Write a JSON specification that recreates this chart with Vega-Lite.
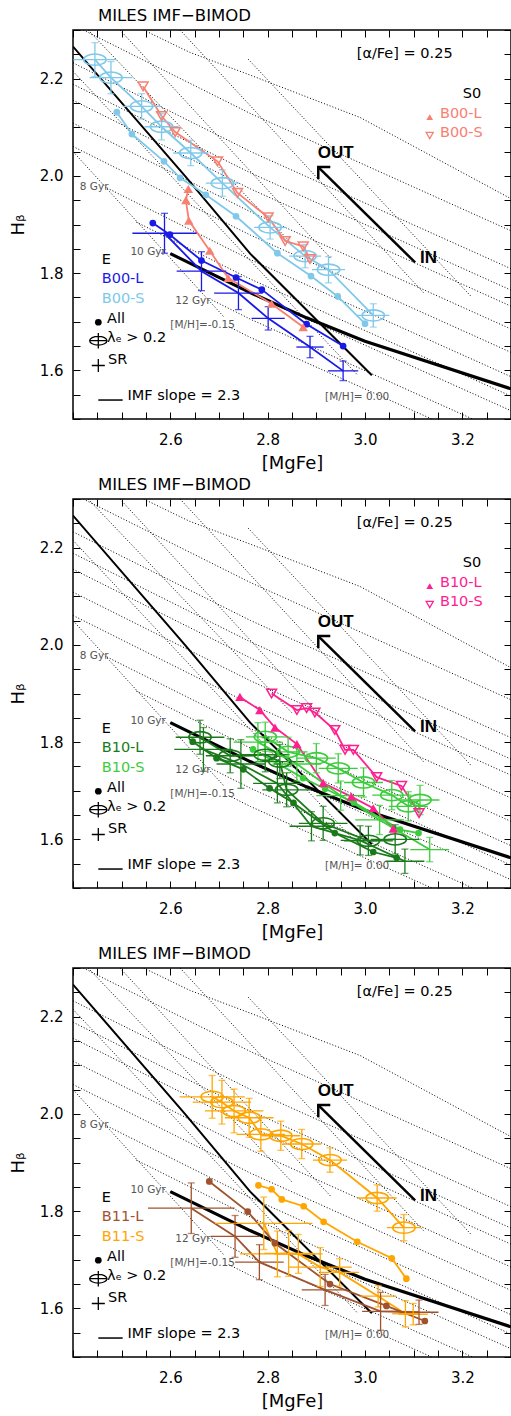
{
"$schema":"https://vega.github.io/schema/vega-lite/v6.json",
"padding":{"left":8,"top":6,"right":0,"bottom":0},
"spacing":80,
"bounds":"flush",
"config":{"view":{"stroke":"black","strokeWidth":1.5},
"axis":{"labelFont":"DejaVu Sans","labelFontSize":15,"labelColor":"black","titleFont":"DejaVu Sans","titleFontSize":18,"titleFontWeight":"normal","titleColor":"black","tickColor":"black","tickWidth":1,"grid":false,"domain":false},
"text":{"font":"DejaVu Sans"}},
"datasets":{
"grid":[
{"g":"s1","o":1,"x":2.545,"y":2.30},{"g":"s1","o":2,"x":2.64,"y":2.254},{"g":"s1","o":3,"x":2.77,"y":2.205},{"g":"s1","o":4,"x":2.99,"y":2.12},{"g":"s1","o":5,"x":3.3,"y":1.953},
{"g":"s2","o":1,"x":2.421,"y":2.30},{"g":"s2","o":2,"x":2.765,"y":2.128},{"g":"s2","o":3,"x":3.3,"y":1.887},
{"g":"s3","o":1,"x":2.4,"y":2.2325},{"g":"s3","o":2,"x":2.765,"y":2.050},{"g":"s3","o":3,"x":3.3,"y":1.809},
{"g":"s4","o":1,"x":2.4,"y":2.1885},{"g":"s4","o":2,"x":2.765,"y":2.006},{"g":"s4","o":3,"x":3.3,"y":1.765},
{"g":"s5","o":1,"x":2.4,"y":2.1555},{"g":"s5","o":2,"x":2.765,"y":1.973},{"g":"s5","o":3,"x":3.3,"y":1.732},
{"g":"s6","o":1,"x":2.4,"y":2.1085},{"g":"s6","o":2,"x":2.765,"y":1.926},{"g":"s6","o":3,"x":3.3,"y":1.685},
{"g":"s7","o":1,"x":2.4,"y":2.0605},{"g":"s7","o":2,"x":2.765,"y":1.878},{"g":"s7","o":3,"x":3.3,"y":1.637},
{"g":"s8","o":1,"x":2.47,"y":1.975},{"g":"s8","o":2,"x":2.765,"y":1.8275},{"g":"s8","o":3,"x":3.3,"y":1.587},
{"g":"s9","o":1,"x":2.53,"y":1.905},{"g":"s9","o":2,"x":2.765,"y":1.7875},{"g":"s9","o":3,"x":3.3,"y":1.547},
{"g":"s10","o":1,"x":2.6,"y":1.84},{"g":"s10","o":2,"x":2.765,"y":1.7575},{"g":"s10","o":3,"x":3.3,"y":1.517},
{"g":"s11","o":1,"x":2.685,"y":1.745},{"g":"s11","o":2,"x":2.765,"y":1.705},{"g":"s11","o":3,"x":3.221,"y":1.50},
{"g":"s12","o":1,"x":2.72,"y":1.69},{"g":"s12","o":2,"x":2.765,"y":1.6675},{"g":"s12","o":3,"x":3.137,"y":1.50},
{"g":"t1","o":1,"x":2.431,"y":2.30},{"g":"t1","o":2,"x":2.85,"y":1.86},
{"g":"t2","o":1,"x":2.4965,"y":2.30},{"g":"t2","o":2,"x":2.93,"y":1.83},
{"g":"t3","o":1,"x":2.40,"y":2.05},{"g":"t3","o":2,"x":2.71,"y":1.71},
{"g":"t4","o":1,"x":2.40,"y":2.215},{"g":"t4","o":2,"x":2.985,"y":1.59},
{"g":"t5","o":1,"x":2.62,"y":2.30},{"g":"t5","o":2,"x":3.12,"y":1.76},
{"g":"t6","o":1,"x":2.76,"y":2.24},{"g":"t6","o":2,"x":3.22,"y":1.75}
],
"solid":[
{"g":"m0","o":1,"x":2.4,"y":2.266},{"g":"m0","o":2,"x":2.63,"y":2.0},{"g":"m0","o":3,"x":2.764,"y":1.84},{"g":"m0","o":4,"x":3.014,"y":1.59},
{"g":"age","o":1,"x":2.6,"y":1.84},{"g":"age","o":2,"x":2.764,"y":1.76},{"g":"age","o":3,"x":2.88,"y":1.708},{"g":"age","o":4,"x":3.0,"y":1.66},{"g":"age","o":5,"x":3.3,"y":1.562}
],
"arrow":[{"o":1,"x":3.103,"y":1.822},{"o":2,"x":2.904,"y":2.018}],
"leg":[
{"k":"dot","x":2.452,"y":1.699},{"k":"ell","x":2.452,"y":1.661},{"k":"sr","x":2.452,"y":1.610},
{"k":"imf","o":1,"x":2.452,"y":1.539},{"k":"imf","o":2,"x":2.502,"y":1.539}
],
"sleg":[
{"p":1,"k":"tri","c":"1S0","x":3.133,"y":2.121},{"p":1,"k":"itri","c":"1S0","x":3.133,"y":2.083},
{"p":2,"k":"tri","c":"2S0","x":3.133,"y":2.121},{"p":2,"k":"itri","c":"2S0","x":3.133,"y":2.083}
],
"ctxt":[
{"r":"lab","x":2.983,"y":2.251,"t":"[α/Fe] = 0.25"},
{"r":"lab","x":2.459,"y":1.828,"t":"E"},
{"r":"lab","x":2.470,"y":1.705,"t":"All"},
{"r":"lab","x":2.470,"y":1.666,"t":"λₑ > 0.2"},
{"r":"lab","x":2.472,"y":1.622,"t":"SR"},
{"r":"lab","x":2.512,"y":1.548,"t":"IMF slope = 2.3"},
{"r":"dir","x":2.903,"y":2.047,"t":"OUT"},
{"r":"dir","x":3.113,"y":1.831,"t":"IN"},
{"r":"mod","x":2.414,"y":1.977,"t":"8 Gyr"},
{"r":"mod","x":2.518,"y":1.843,"t":"10 Gyr"},
{"r":"mod","x":2.610,"y":1.743,"t":"12 Gyr"},
{"r":"mod","x":2.600,"y":1.693,"t":"[M/H]=-0.15"},
{"r":"mod","x":2.918,"y":1.546,"t":"[M/H]= 0.00"}
],
"ptxt":[
{"p":1,"c":"k","x":3.201,"y":2.169,"t":"S0"},
{"p":1,"c":"1S0","x":3.154,"y":2.128,"t":"B00-L"},
{"p":1,"c":"1S0","x":3.154,"y":2.089,"t":"B00-S"},
{"p":1,"c":"1L","x":2.459,"y":1.787,"t":"B00-L"},
{"p":1,"c":"1S","x":2.459,"y":1.747,"t":"B00-S"},
{"p":2,"c":"k","x":3.201,"y":2.169,"t":"S0"},
{"p":2,"c":"2S0","x":3.154,"y":2.128,"t":"B10-L"},
{"p":2,"c":"2S0","x":3.154,"y":2.089,"t":"B10-S"},
{"p":2,"c":"2L","x":2.459,"y":1.787,"t":"B10-L"},
{"p":2,"c":"2S","x":2.459,"y":1.747,"t":"B10-S"},
{"p":3,"c":"3L","x":2.459,"y":1.787,"t":"B11-L"},
{"p":3,"c":"3S","x":2.459,"y":1.747,"t":"B11-S"}
],
"pts":[
{"p":1,"c":"1S","k":"ell","o":1,"x":2.445,"y":2.239,"xe":0.044,"ye":0.035},
{"p":1,"c":"1S","k":"ell","o":2,"x":2.478,"y":2.202,"xe":0.044,"ye":0.033},
{"p":1,"c":"1S","k":"ell","o":3,"x":2.541,"y":2.143,"xe":0.039,"ye":0.026},
{"p":1,"c":"1S","k":"ell","o":4,"x":2.582,"y":2.101,"xe":0.035,"ye":0.027},
{"p":1,"c":"1S","k":"ell","o":5,"x":2.642,"y":2.047,"xe":0.036,"ye":0.026},
{"p":1,"c":"1S","k":"ell","o":6,"x":2.707,"y":1.985,"xe":0.034,"ye":0.027},
{"p":1,"c":"1S","k":"ell","o":7,"x":2.805,"y":1.894,"xe":0.033,"ye":0.024},
{"p":1,"c":"1S","k":"ell","o":8,"x":2.877,"y":1.835,"xe":0.033,"ye":0.024},
{"p":1,"c":"1S","k":"ell","o":9,"x":2.925,"y":1.807,"xe":0.034,"ye":0.027},
{"p":1,"c":"1S","k":"ell","o":10,"x":3.017,"y":1.713,"xe":0.033,"ye":0.024},
{"p":1,"c":"1S","k":"dot","o":1,"x":2.490,"y":2.131},
{"p":1,"c":"1S","k":"dot","o":2,"x":2.521,"y":2.086},
{"p":1,"c":"1S","k":"dot","o":3,"x":2.587,"y":2.030},
{"p":1,"c":"1S","k":"dot","o":4,"x":2.620,"y":1.996},
{"p":1,"c":"1S","k":"dot","o":5,"x":2.673,"y":1.961},
{"p":1,"c":"1S","k":"dot","o":6,"x":2.735,"y":1.917},
{"p":1,"c":"1S","k":"dot","o":7,"x":2.820,"y":1.841},
{"p":1,"c":"1S","k":"dot","o":8,"x":2.889,"y":1.794},
{"p":1,"c":"1S","k":"dot","o":9,"x":2.944,"y":1.752},
{"p":1,"c":"1S","k":"dot","o":10,"x":3.000,"y":1.696},
{"p":1,"c":"1L","k":"dot","o":1,"x":2.564,"y":1.903},
{"p":1,"c":"1L","k":"dot","o":2,"x":2.599,"y":1.879},
{"p":1,"c":"1L","k":"dot","o":3,"x":2.664,"y":1.826},
{"p":1,"c":"1L","k":"dot","o":4,"x":2.735,"y":1.791},
{"p":1,"c":"1L","k":"dot","o":5,"x":2.788,"y":1.766},
{"p":1,"c":"1L","k":"dot","o":6,"x":2.880,"y":1.695},
{"p":1,"c":"1L","k":"dot","o":7,"x":2.955,"y":1.650},
{"p":1,"c":"1L","k":"sr","o":1,"x":2.588,"y":1.882,"xe":0.066,"ye":0.041},
{"p":1,"c":"1L","k":"sr","o":2,"x":2.664,"y":1.804,"xe":0.051,"ye":0.040},
{"p":1,"c":"1L","k":"sr","o":3,"x":2.740,"y":1.759,"xe":0.05,"ye":0.034},
{"p":1,"c":"1L","k":"sr","o":4,"x":2.801,"y":1.707,"xe":0.034,"ye":0.024},
{"p":1,"c":"1L","k":"sr","o":5,"x":2.887,"y":1.648,"xe":0.028,"ye":0.022},
{"p":1,"c":"1L","k":"sr","o":6,"x":2.955,"y":1.599,"xe":0.031,"ye":0.020},
{"p":1,"c":"1S0","k":"tri","o":1,"x":2.637,"y":1.973},
{"p":1,"c":"1S0","k":"tri","o":2,"x":2.632,"y":1.950},
{"p":1,"c":"1S0","k":"tri","o":3,"x":2.638,"y":1.908},
{"p":1,"c":"1S0","k":"tri","o":4,"x":2.681,"y":1.846},
{"p":1,"c":"1S0","k":"tri","o":5,"x":2.719,"y":1.790},
{"p":1,"c":"1S0","k":"tri","o":6,"x":2.808,"y":1.737},
{"p":1,"c":"1S0","k":"tri","o":7,"x":2.873,"y":1.689},
{"p":1,"c":"1S0","k":"itri","o":1,"x":2.544,"y":2.184},
{"p":1,"c":"1S0","k":"itri","o":2,"x":2.582,"y":2.123},
{"p":1,"c":"1S0","k":"itri","o":3,"x":2.610,"y":2.090},
{"p":1,"c":"1S0","k":"itri","o":4,"x":2.697,"y":2.030},
{"p":1,"c":"1S0","k":"itri","o":5,"x":2.738,"y":1.965},
{"p":1,"c":"1S0","k":"itri","o":6,"x":2.801,"y":1.915},
{"p":1,"c":"1S0","k":"itri","o":7,"x":2.836,"y":1.866},
{"p":1,"c":"1S0","k":"itri","o":8,"x":2.873,"y":1.855},
{"p":1,"c":"1S0","k":"itri","o":9,"x":2.887,"y":1.829},
{"p":2,"c":"2S0","k":"tri","o":1,"x":2.743,"y":1.893},
{"p":2,"c":"2S0","k":"tri","o":2,"x":2.784,"y":1.866},
{"p":2,"c":"2S0","k":"tri","o":3,"x":2.815,"y":1.830},
{"p":2,"c":"2S0","k":"tri","o":4,"x":2.860,"y":1.796},
{"p":2,"c":"2S0","k":"tri","o":5,"x":2.914,"y":1.716},
{"p":2,"c":"2S0","k":"tri","o":6,"x":2.972,"y":1.688},
{"p":2,"c":"2S0","k":"tri","o":7,"x":3.017,"y":1.664},
{"p":2,"c":"2S0","k":"tri","o":8,"x":3.058,"y":1.622},
{"p":2,"c":"2S0","k":"itri","o":1,"x":2.808,"y":1.900},
{"p":2,"c":"2S0","k":"itri","o":2,"x":2.860,"y":1.866},
{"p":2,"c":"2S0","k":"itri","o":3,"x":2.880,"y":1.870},
{"p":2,"c":"2S0","k":"itri","o":4,"x":2.897,"y":1.861},
{"p":2,"c":"2S0","k":"itri","o":5,"x":2.938,"y":1.825},
{"p":2,"c":"2S0","k":"itri","o":6,"x":2.959,"y":1.784},
{"p":2,"c":"2S0","k":"itri","o":7,"x":2.976,"y":1.784},
{"p":2,"c":"2S0","k":"itri","o":8,"x":3.024,"y":1.728},
{"p":2,"c":"2S0","k":"itri","o":9,"x":3.075,"y":1.710},
{"p":2,"c":"2S0","k":"itri","o":10,"x":3.111,"y":1.654},
{"p":2,"c":"2L","k":"ell","o":1,"x":2.661,"y":1.810,"xe":0.05,"ye":0.035},
{"p":2,"c":"2L","k":"ell","o":2,"x":2.723,"y":1.772,"xe":0.05,"ye":0.035},
{"p":2,"c":"2L","k":"ell","o":3,"x":2.795,"y":1.774,"xe":0.05,"ye":0.035},
{"p":2,"c":"2L","k":"ell","o":4,"x":2.825,"y":1.760,"xe":0.05,"ye":0.035},
{"p":2,"c":"2L","k":"ell","o":5,"x":2.839,"y":1.702,"xe":0.05,"ye":0.035},
{"p":2,"c":"2L","k":"ell","o":6,"x":2.914,"y":1.633,"xe":0.05,"ye":0.035},
{"p":2,"c":"2L","k":"ell","o":7,"x":3.007,"y":1.597,"xe":0.05,"ye":0.03},
{"p":2,"c":"2L","k":"ell","o":8,"x":3.062,"y":1.600,"xe":0.05,"ye":0.03},
{"p":2,"c":"2L","k":"dot","o":1,"x":2.646,"y":1.801},
{"p":2,"c":"2L","k":"dot","o":2,"x":2.695,"y":1.767},
{"p":2,"c":"2L","k":"dot","o":3,"x":2.750,"y":1.744},
{"p":2,"c":"2L","k":"dot","o":4,"x":2.804,"y":1.705},
{"p":2,"c":"2L","k":"dot","o":5,"x":2.853,"y":1.675},
{"p":2,"c":"2L","k":"dot","o":6,"x":2.938,"y":1.613},
{"p":2,"c":"2L","k":"dot","o":7,"x":3.017,"y":1.574},
{"p":2,"c":"2L","k":"dot","o":8,"x":3.065,"y":1.562},
{"p":2,"c":"2L","k":"sr","o":1,"x":2.668,"y":1.785,"xe":0.06,"ye":0.045},
{"p":2,"c":"2L","k":"sr","o":2,"x":2.745,"y":1.755,"xe":0.05,"ye":0.05},
{"p":2,"c":"2L","k":"sr","o":3,"x":2.820,"y":1.715,"xe":0.05,"ye":0.04},
{"p":2,"c":"2L","k":"sr","o":4,"x":2.890,"y":1.627,"xe":0.045,"ye":0.03},
{"p":2,"c":"2L","k":"sr","o":5,"x":2.990,"y":1.598,"xe":0.04,"ye":0.03},
{"p":2,"c":"2L","k":"sr","o":6,"x":3.082,"y":1.555,"xe":0.04,"ye":0.025},
{"p":2,"c":"2S","k":"ell","o":1,"x":2.795,"y":1.811,"xe":0.04,"ye":0.03},
{"p":2,"c":"2S","k":"ell","o":2,"x":2.842,"y":1.780,"xe":0.04,"ye":0.03},
{"p":2,"c":"2S","k":"ell","o":3,"x":2.900,"y":1.767,"xe":0.04,"ye":0.03},
{"p":2,"c":"2S","k":"ell","o":4,"x":2.945,"y":1.746,"xe":0.04,"ye":0.03},
{"p":2,"c":"2S","k":"ell","o":5,"x":2.997,"y":1.717,"xe":0.04,"ye":0.03},
{"p":2,"c":"2S","k":"ell","o":6,"x":3.055,"y":1.691,"xe":0.04,"ye":0.03},
{"p":2,"c":"2S","k":"ell","o":7,"x":3.089,"y":1.668,"xe":0.04,"ye":0.03},
{"p":2,"c":"2S","k":"ell","o":8,"x":3.113,"y":1.681,"xe":0.04,"ye":0.03},
{"p":2,"c":"2S","k":"dot","o":1,"x":2.770,"y":1.785},
{"p":2,"c":"2S","k":"dot","o":2,"x":2.873,"y":1.726},
{"p":2,"c":"2S","k":"dot","o":3,"x":2.918,"y":1.704},
{"p":2,"c":"2S","k":"dot","o":4,"x":2.977,"y":1.676},
{"p":2,"c":"2S","k":"dot","o":5,"x":3.072,"y":1.620},
{"p":2,"c":"2S","k":"dot","o":6,"x":3.110,"y":1.613},
{"p":2,"c":"2S","k":"sr","o":1,"x":2.780,"y":1.800,"xe":0.05,"ye":0.04},
{"p":2,"c":"2S","k":"sr","o":2,"x":2.860,"y":1.755,"xe":0.05,"ye":0.035},
{"p":2,"c":"2S","k":"sr","o":3,"x":2.950,"y":1.690,"xe":0.05,"ye":0.03},
{"p":2,"c":"2S","k":"sr","o":4,"x":3.030,"y":1.640,"xe":0.05,"ye":0.03},
{"p":2,"c":"2S","k":"sr","o":5,"x":3.133,"y":1.579,"xe":0.04,"ye":0.025},
{"p":3,"c":"3S","k":"ell","o":1,"x":2.686,"y":2.035,"xe":0.067,"ye":0.044},
{"p":3,"c":"3S","k":"ell","o":2,"x":2.706,"y":2.024,"xe":0.06,"ye":0.045},
{"p":3,"c":"3S","k":"ell","o":3,"x":2.731,"y":2.006,"xe":0.06,"ye":0.045},
{"p":3,"c":"3S","k":"ell","o":4,"x":2.762,"y":1.992,"xe":0.05,"ye":0.04},
{"p":3,"c":"3S","k":"ell","o":5,"x":2.786,"y":1.958,"xe":0.05,"ye":0.035},
{"p":3,"c":"3S","k":"ell","o":6,"x":2.827,"y":1.955,"xe":0.04,"ye":0.03},
{"p":3,"c":"3S","k":"ell","o":7,"x":2.870,"y":1.938,"xe":0.04,"ye":0.03},
{"p":3,"c":"3S","k":"ell","o":8,"x":2.928,"y":1.905,"xe":0.035,"ye":0.025},
{"p":3,"c":"3S","k":"ell","o":9,"x":3.025,"y":1.827,"xe":0.04,"ye":0.027},
{"p":3,"c":"3S","k":"ell","o":10,"x":3.080,"y":1.766,"xe":0.035,"ye":0.027},
{"p":3,"c":"3S","k":"dot","o":1,"x":2.781,"y":1.853},
{"p":3,"c":"3S","k":"dot","o":2,"x":2.808,"y":1.845},
{"p":3,"c":"3S","k":"dot","o":3,"x":2.829,"y":1.824},
{"p":3,"c":"3S","k":"dot","o":4,"x":2.874,"y":1.810},
{"p":3,"c":"3S","k":"dot","o":5,"x":2.915,"y":1.778},
{"p":3,"c":"3S","k":"dot","o":6,"x":2.984,"y":1.737},
{"p":3,"c":"3S","k":"dot","o":7,"x":3.055,"y":1.703},
{"p":3,"c":"3S","k":"dot","o":8,"x":3.085,"y":1.661},
{"p":3,"c":"3S","k":"sr","o":1,"x":2.792,"y":1.775,"xe":0.1,"ye":0.054},
{"p":3,"c":"3S","k":"sr","o":2,"x":2.820,"y":1.712,"xe":0.077,"ye":0.047},
{"p":3,"c":"3S","k":"sr","o":3,"x":2.843,"y":1.713,"xe":0.05,"ye":0.047},
{"p":3,"c":"3S","k":"sr","o":4,"x":2.863,"y":1.712,"xe":0.05,"ye":0.04},
{"p":3,"c":"3S","k":"sr","o":5,"x":2.908,"y":1.685,"xe":0.065,"ye":0.04},
{"p":3,"c":"3S","k":"sr","o":6,"x":2.948,"y":1.674,"xe":0.04,"ye":0.028},
{"p":3,"c":"3S","k":"sr","o":7,"x":3.027,"y":1.625,"xe":0.037,"ye":0.022},
{"p":3,"c":"3S","k":"sr","o":8,"x":3.083,"y":1.589,"xe":0.027,"ye":0.027},
{"p":3,"c":"3S","k":"sr","o":9,"x":3.099,"y":1.588,"xe":0.03,"ye":0.022},
{"p":3,"c":"3L","k":"dot","o":1,"x":2.680,"y":1.861},
{"p":3,"c":"3L","k":"dot","o":2,"x":2.759,"y":1.799},
{"p":3,"c":"3L","k":"dot","o":3,"x":2.815,"y":1.734},
{"p":3,"c":"3L","k":"dot","o":4,"x":2.928,"y":1.650},
{"p":3,"c":"3L","k":"dot","o":5,"x":3.044,"y":1.605},
{"p":3,"c":"3L","k":"dot","o":6,"x":3.123,"y":1.574},
{"p":3,"c":"3L","k":"sr","o":1,"x":2.643,"y":1.806,"xe":0.089,"ye":0.052},
{"p":3,"c":"3L","k":"sr","o":2,"x":2.733,"y":1.748,"xe":0.05,"ye":0.043},
{"p":3,"c":"3L","k":"sr","o":3,"x":2.783,"y":1.695,"xe":0.05,"ye":0.036},
{"p":3,"c":"3L","k":"sr","o":4,"x":2.918,"y":1.638,"xe":0.048,"ye":0.032},
{"p":3,"c":"3L","k":"sr","o":5,"x":3.032,"y":1.594,"xe":0.038,"ye":0.039},
{"p":3,"c":"3L","k":"sr","o":6,"x":3.111,"y":1.592,"xe":0.04,"ye":0.025}
]
},
"vconcat":[
{"width":438,"height":389,
"title":{"text":"MILES  IMF−BIMOD","anchor":"start","frame":"group","dx":25,"offset":-14,"baseline":"alphabetic","fontSize":16.5,"font":"DejaVu Sans","fontWeight":"normal","color":"black"},
"resolve":{"axis":{"x":"independent","y":"independent"}},
"encoding":{"x":{"field":"x","type":"quantitative","scale":{"domain":[2.4,3.3],"nice":false,"zero":false},"axis":null},"y":{"field":"y","type":"quantitative","scale":{"domain":[1.5,2.3],"nice":false,"zero":false},"axis":null}},
"layer":[
{"data":{"name":"grid"},"mark":{"type":"line","color":"black","strokeWidth":1,"strokeDash":[1,2],"clip":true},
"encoding":{"x":{"field":"x","type":"quantitative","scale":{"domain":[2.4,3.3],"nice":false,"zero":false},"axis":{"orient":"bottom","values":[2.4,2.45,2.5,2.55,2.6,2.65,2.7,2.75,2.8,2.85,2.9,2.95,3.0,3.05,3.1,3.15,3.2,3.25,3.3],"labelExpr":"(abs(datum.value-2.6)<0.001||abs(datum.value-2.8)<0.001||abs(datum.value-3.0)<0.001||abs(datum.value-3.2)<0.001)?format(datum.value,'.1f'):''","title":"[MgFe]","tickSize":-7,"labelPadding":20,"titlePadding":7,"labelOverlap":false,"labelFlush":false}},
"y":{"field":"y","type":"quantitative","scale":{"domain":[1.5,2.3],"nice":false,"zero":false},"axis":{"orient":"left","values":[1.5,1.55,1.6,1.65,1.7,1.75,1.8,1.85,1.9,1.95,2.0,2.05,2.1,2.15,2.2,2.25,2.3],"labelExpr":"(abs(datum.value-1.6)<0.001||abs(datum.value-1.8)<0.001||abs(datum.value-2.0)<0.001||abs(datum.value-2.2)<0.001)?format(datum.value,'.1f'):''","title":"Hᵦ","tickSize":-7,"labelPadding":17,"titlePadding":12,"labelOverlap":false,"labelFlush":false}},
"detail":{"field":"g"},"order":{"field":"o"}}},
{"data":{"name":"solid"},"transform":[{"filter":"datum.g=='m0'"}],"mark":{"type":"line","color":"black","strokeWidth":2,"clip":true},
"encoding":{"x":{"field":"x","type":"quantitative","scale":{"domain":[2.4,3.3],"nice":false,"zero":false},"axis":{"orient":"top","values":[2.4,2.45,2.5,2.55,2.6,2.65,2.7,2.75,2.8,2.85,2.9,2.95,3.0,3.05,3.1,3.15,3.2,3.25,3.3],"labels":false,"title":null,"tickSize":-7,"minExtent":0,"maxExtent":0}},
"y":{"field":"y","type":"quantitative","scale":{"domain":[1.5,2.3],"nice":false,"zero":false},"axis":{"orient":"right","values":[1.5,1.55,1.6,1.65,1.7,1.75,1.8,1.85,1.9,1.95,2.0,2.05,2.1,2.15,2.2,2.25,2.3],"labels":false,"title":null,"tickSize":-7,"minExtent":0,"maxExtent":0}},
"order":{"field":"o"}}},
{"data":{"name":"solid"},"transform":[{"filter":"datum.g=='age'"}],"mark":{"type":"line","color":"black","strokeWidth":3.2,"clip":true},"encoding":{"order":{"field":"o"}}},
{"data":{"name":"arrow"},"mark":{"type":"line","color":"black","strokeWidth":2.5},"encoding":{"order":{"field":"o"}}},
{"data":{"name":"arrow"},"transform":[{"filter":"datum.o==2"}],"mark":{"type":"point","shape":"M-1,1L0,0L1,1","angle":315,"size":289,"filled":false,"stroke":"black","strokeWidth":2.5,"opacity":1}},
{"data":{"name":"pts"},"transform":[{"filter":"datum.p==1"}],"mark":{"type":"line","strokeWidth":1.8},"encoding":{"color":{"field":"c","type":"nominal","scale":{"domain":["k","1L","1S","1S0","2L","2S","2S0","3L","3S"],"range":["#000000","#1a1ae6","#80c8ea","#f88072","#1a7a1a","#3ccc3c","#ff2090","#a0522d","#ffa500"]},"legend":null},"detail":{"field":"k"},"order":{"field":"o"}}},
{"data":{"name":"pts"},"transform":[{"filter":"datum.p==1&&datum.xe>0"}],"mark":{"type":"errorbar","thickness":1.3},"encoding":{"xError":{"field":"xe"},"color":{"field":"c","type":"nominal","legend":null}}},
{"data":{"name":"pts"},"transform":[{"filter":"datum.p==1&&datum.ye>0"}],"mark":{"type":"errorbar","thickness":1.3,"ticks":{"size":7}},"encoding":{"yError":{"field":"ye"},"color":{"field":"c","type":"nominal","legend":null}}},
{"data":{"name":"pts"},"transform":[{"filter":"datum.p==1&&datum.k=='dot'"}],"mark":{"type":"point","shape":"circle","filled":true,"size":45,"opacity":1},"encoding":{"color":{"field":"c","type":"nominal","legend":null}}},
{"data":{"name":"pts"},"transform":[{"filter":"datum.p==1&&datum.k=='ell'"}],"mark":{"type":"point","shape":"M-1,0A1,0.5 0 1 0 1,0A1,0.5 0 1 0 -1,0Z","filled":false,"size":500,"strokeWidth":1.6,"opacity":1},"encoding":{"color":{"field":"c","type":"nominal","legend":null}}},
{"data":{"name":"pts"},"transform":[{"filter":"datum.p==1&&datum.k=='tri'"}],"mark":{"type":"point","shape":"triangle-up","filled":true,"size":90,"opacity":1},"encoding":{"color":{"field":"c","type":"nominal","legend":null}}},
{"data":{"name":"pts"},"transform":[{"filter":"datum.p==1&&datum.k=='itri'"}],"mark":{"type":"point","shape":"triangle-down","filled":false,"size":100,"strokeWidth":1.5,"opacity":1},"encoding":{"color":{"field":"c","type":"nominal","legend":null}}},
{"data":{"name":"sleg"},"transform":[{"filter":"datum.p==1&&datum.k=='tri'"}],"mark":{"type":"point","shape":"triangle-up","filled":true,"size":45,"opacity":1},"encoding":{"color":{"field":"c","type":"nominal","legend":null}}},
{"data":{"name":"sleg"},"transform":[{"filter":"datum.p==1&&datum.k=='itri'"}],"mark":{"type":"point","shape":"triangle-down","filled":false,"size":50,"strokeWidth":1.3,"opacity":1},"encoding":{"color":{"field":"c","type":"nominal","legend":null}}},
{"data":{"name":"leg"},"transform":[{"filter":"datum.k=='dot'"}],"mark":{"type":"point","shape":"circle","filled":true,"size":45,"color":"black","opacity":1}},
{"data":{"name":"leg"},"transform":[{"filter":"datum.k=='ell'"}],"mark":{"type":"point","shape":"M-1,0A1,0.5 0 1 0 1,0A1,0.5 0 1 0 -1,0ZM0,-0.9L0,0.9M-1,0L1,0","filled":false,"size":300,"color":"black","strokeWidth":1.3,"opacity":1}},
{"data":{"name":"leg"},"transform":[{"filter":"datum.k=='sr'"}],"mark":{"type":"point","shape":"M-1,0L1,0M0,-1L0,1","filled":false,"size":170,"color":"black","strokeWidth":1.3,"opacity":1}},
{"data":{"name":"leg"},"transform":[{"filter":"datum.k=='imf'"}],"mark":{"type":"line","color":"black","strokeWidth":1.5},"encoding":{"order":{"field":"o"}}},
{"data":{"name":"ctxt"},"transform":[{"filter":"datum.r=='lab'"}],"mark":{"type":"text","align":"left","baseline":"middle","fontSize":14.5,"font":"DejaVu Sans","color":"black"},"encoding":{"text":{"field":"t"}}},
{"data":{"name":"ctxt"},"transform":[{"filter":"datum.r=='mod'"}],"mark":{"type":"text","align":"left","baseline":"middle","fontSize":10.5,"font":"DejaVu Sans","color":"#555555"},"encoding":{"text":{"field":"t"}}},
{"data":{"name":"ctxt"},"transform":[{"filter":"datum.r=='dir'"}],"mark":{"type":"text","align":"left","baseline":"middle","fontSize":17,"font":"Liberation Sans","fontWeight":"bold","color":"black"},"encoding":{"text":{"field":"t"}}},
{"data":{"name":"ptxt"},"transform":[{"filter":"datum.p==1"}],"mark":{"type":"text","align":"left","baseline":"middle","fontSize":14.5,"font":"DejaVu Sans"},"encoding":{"text":{"field":"t"},"color":{"field":"c","type":"nominal","legend":null}}}
]},
{"width":438,"height":389,
"title":{"text":"MILES  IMF−BIMOD","anchor":"start","frame":"group","dx":25,"offset":-14,"baseline":"alphabetic","fontSize":16.5,"font":"DejaVu Sans","fontWeight":"normal","color":"black"},
"resolve":{"axis":{"x":"independent","y":"independent"}},
"encoding":{"x":{"field":"x","type":"quantitative","scale":{"domain":[2.4,3.3],"nice":false,"zero":false},"axis":null},"y":{"field":"y","type":"quantitative","scale":{"domain":[1.5,2.3],"nice":false,"zero":false},"axis":null}},
"layer":[
{"data":{"name":"grid"},"mark":{"type":"line","color":"black","strokeWidth":1,"strokeDash":[1,2],"clip":true},
"encoding":{"x":{"field":"x","type":"quantitative","scale":{"domain":[2.4,3.3],"nice":false,"zero":false},"axis":{"orient":"bottom","values":[2.4,2.45,2.5,2.55,2.6,2.65,2.7,2.75,2.8,2.85,2.9,2.95,3.0,3.05,3.1,3.15,3.2,3.25,3.3],"labelExpr":"(abs(datum.value-2.6)<0.001||abs(datum.value-2.8)<0.001||abs(datum.value-3.0)<0.001||abs(datum.value-3.2)<0.001)?format(datum.value,'.1f'):''","title":"[MgFe]","tickSize":-7,"labelPadding":20,"titlePadding":7,"labelOverlap":false,"labelFlush":false}},
"y":{"field":"y","type":"quantitative","scale":{"domain":[1.5,2.3],"nice":false,"zero":false},"axis":{"orient":"left","values":[1.5,1.55,1.6,1.65,1.7,1.75,1.8,1.85,1.9,1.95,2.0,2.05,2.1,2.15,2.2,2.25,2.3],"labelExpr":"(abs(datum.value-1.6)<0.001||abs(datum.value-1.8)<0.001||abs(datum.value-2.0)<0.001||abs(datum.value-2.2)<0.001)?format(datum.value,'.1f'):''","title":"Hᵦ","tickSize":-7,"labelPadding":17,"titlePadding":12,"labelOverlap":false,"labelFlush":false}},
"detail":{"field":"g"},"order":{"field":"o"}}},
{"data":{"name":"solid"},"transform":[{"filter":"datum.g=='m0'"}],"mark":{"type":"line","color":"black","strokeWidth":2,"clip":true},
"encoding":{"x":{"field":"x","type":"quantitative","scale":{"domain":[2.4,3.3],"nice":false,"zero":false},"axis":{"orient":"top","values":[2.4,2.45,2.5,2.55,2.6,2.65,2.7,2.75,2.8,2.85,2.9,2.95,3.0,3.05,3.1,3.15,3.2,3.25,3.3],"labels":false,"title":null,"tickSize":-7,"minExtent":0,"maxExtent":0}},
"y":{"field":"y","type":"quantitative","scale":{"domain":[1.5,2.3],"nice":false,"zero":false},"axis":{"orient":"right","values":[1.5,1.55,1.6,1.65,1.7,1.75,1.8,1.85,1.9,1.95,2.0,2.05,2.1,2.15,2.2,2.25,2.3],"labels":false,"title":null,"tickSize":-7,"minExtent":0,"maxExtent":0}},
"order":{"field":"o"}}},
{"data":{"name":"solid"},"transform":[{"filter":"datum.g=='age'"}],"mark":{"type":"line","color":"black","strokeWidth":3.2,"clip":true},"encoding":{"order":{"field":"o"}}},
{"data":{"name":"arrow"},"mark":{"type":"line","color":"black","strokeWidth":2.5},"encoding":{"order":{"field":"o"}}},
{"data":{"name":"arrow"},"transform":[{"filter":"datum.o==2"}],"mark":{"type":"point","shape":"M-1,1L0,0L1,1","angle":315,"size":289,"filled":false,"stroke":"black","strokeWidth":2.5,"opacity":1}},
{"data":{"name":"pts"},"transform":[{"filter":"datum.p==2"}],"mark":{"type":"line","strokeWidth":1.8},"encoding":{"color":{"field":"c","type":"nominal","scale":{"domain":["k","1L","1S","1S0","2L","2S","2S0","3L","3S"],"range":["#000000","#1a1ae6","#80c8ea","#f88072","#1a7a1a","#3ccc3c","#ff2090","#a0522d","#ffa500"]},"legend":null},"detail":{"field":"k"},"order":{"field":"o"}}},
{"data":{"name":"pts"},"transform":[{"filter":"datum.p==2&&datum.xe>0"}],"mark":{"type":"errorbar","thickness":1.3},"encoding":{"xError":{"field":"xe"},"color":{"field":"c","type":"nominal","legend":null}}},
{"data":{"name":"pts"},"transform":[{"filter":"datum.p==2&&datum.ye>0"}],"mark":{"type":"errorbar","thickness":1.3,"ticks":{"size":7}},"encoding":{"yError":{"field":"ye"},"color":{"field":"c","type":"nominal","legend":null}}},
{"data":{"name":"pts"},"transform":[{"filter":"datum.p==2&&datum.k=='dot'"}],"mark":{"type":"point","shape":"circle","filled":true,"size":45,"opacity":1},"encoding":{"color":{"field":"c","type":"nominal","legend":null}}},
{"data":{"name":"pts"},"transform":[{"filter":"datum.p==2&&datum.k=='ell'"}],"mark":{"type":"point","shape":"M-1,0A1,0.5 0 1 0 1,0A1,0.5 0 1 0 -1,0Z","filled":false,"size":500,"strokeWidth":1.6,"opacity":1},"encoding":{"color":{"field":"c","type":"nominal","legend":null}}},
{"data":{"name":"pts"},"transform":[{"filter":"datum.p==2&&datum.k=='tri'"}],"mark":{"type":"point","shape":"triangle-up","filled":true,"size":90,"opacity":1},"encoding":{"color":{"field":"c","type":"nominal","legend":null}}},
{"data":{"name":"pts"},"transform":[{"filter":"datum.p==2&&datum.k=='itri'"}],"mark":{"type":"point","shape":"triangle-down","filled":false,"size":100,"strokeWidth":1.5,"opacity":1},"encoding":{"color":{"field":"c","type":"nominal","legend":null}}},
{"data":{"name":"sleg"},"transform":[{"filter":"datum.p==2&&datum.k=='tri'"}],"mark":{"type":"point","shape":"triangle-up","filled":true,"size":45,"opacity":1},"encoding":{"color":{"field":"c","type":"nominal","legend":null}}},
{"data":{"name":"sleg"},"transform":[{"filter":"datum.p==2&&datum.k=='itri'"}],"mark":{"type":"point","shape":"triangle-down","filled":false,"size":50,"strokeWidth":1.3,"opacity":1},"encoding":{"color":{"field":"c","type":"nominal","legend":null}}},
{"data":{"name":"leg"},"transform":[{"filter":"datum.k=='dot'"}],"mark":{"type":"point","shape":"circle","filled":true,"size":45,"color":"black","opacity":1}},
{"data":{"name":"leg"},"transform":[{"filter":"datum.k=='ell'"}],"mark":{"type":"point","shape":"M-1,0A1,0.5 0 1 0 1,0A1,0.5 0 1 0 -1,0ZM0,-0.9L0,0.9M-1,0L1,0","filled":false,"size":300,"color":"black","strokeWidth":1.3,"opacity":1}},
{"data":{"name":"leg"},"transform":[{"filter":"datum.k=='sr'"}],"mark":{"type":"point","shape":"M-1,0L1,0M0,-1L0,1","filled":false,"size":170,"color":"black","strokeWidth":1.3,"opacity":1}},
{"data":{"name":"leg"},"transform":[{"filter":"datum.k=='imf'"}],"mark":{"type":"line","color":"black","strokeWidth":1.5},"encoding":{"order":{"field":"o"}}},
{"data":{"name":"ctxt"},"transform":[{"filter":"datum.r=='lab'"}],"mark":{"type":"text","align":"left","baseline":"middle","fontSize":14.5,"font":"DejaVu Sans","color":"black"},"encoding":{"text":{"field":"t"}}},
{"data":{"name":"ctxt"},"transform":[{"filter":"datum.r=='mod'"}],"mark":{"type":"text","align":"left","baseline":"middle","fontSize":10.5,"font":"DejaVu Sans","color":"#555555"},"encoding":{"text":{"field":"t"}}},
{"data":{"name":"ctxt"},"transform":[{"filter":"datum.r=='dir'"}],"mark":{"type":"text","align":"left","baseline":"middle","fontSize":17,"font":"Liberation Sans","fontWeight":"bold","color":"black"},"encoding":{"text":{"field":"t"}}},
{"data":{"name":"ptxt"},"transform":[{"filter":"datum.p==2"}],"mark":{"type":"text","align":"left","baseline":"middle","fontSize":14.5,"font":"DejaVu Sans"},"encoding":{"text":{"field":"t"},"color":{"field":"c","type":"nominal","legend":null}}}
]},
{"width":438,"height":389,
"title":{"text":"MILES  IMF−BIMOD","anchor":"start","frame":"group","dx":25,"offset":-14,"baseline":"alphabetic","fontSize":16.5,"font":"DejaVu Sans","fontWeight":"normal","color":"black"},
"resolve":{"axis":{"x":"independent","y":"independent"}},
"encoding":{"x":{"field":"x","type":"quantitative","scale":{"domain":[2.4,3.3],"nice":false,"zero":false},"axis":null},"y":{"field":"y","type":"quantitative","scale":{"domain":[1.5,2.3],"nice":false,"zero":false},"axis":null}},
"layer":[
{"data":{"name":"grid"},"mark":{"type":"line","color":"black","strokeWidth":1,"strokeDash":[1,2],"clip":true},
"encoding":{"x":{"field":"x","type":"quantitative","scale":{"domain":[2.4,3.3],"nice":false,"zero":false},"axis":{"orient":"bottom","values":[2.4,2.45,2.5,2.55,2.6,2.65,2.7,2.75,2.8,2.85,2.9,2.95,3.0,3.05,3.1,3.15,3.2,3.25,3.3],"labelExpr":"(abs(datum.value-2.6)<0.001||abs(datum.value-2.8)<0.001||abs(datum.value-3.0)<0.001||abs(datum.value-3.2)<0.001)?format(datum.value,'.1f'):''","title":"[MgFe]","tickSize":-7,"labelPadding":20,"titlePadding":7,"labelOverlap":false,"labelFlush":false}},
"y":{"field":"y","type":"quantitative","scale":{"domain":[1.5,2.3],"nice":false,"zero":false},"axis":{"orient":"left","values":[1.5,1.55,1.6,1.65,1.7,1.75,1.8,1.85,1.9,1.95,2.0,2.05,2.1,2.15,2.2,2.25,2.3],"labelExpr":"(abs(datum.value-1.6)<0.001||abs(datum.value-1.8)<0.001||abs(datum.value-2.0)<0.001||abs(datum.value-2.2)<0.001)?format(datum.value,'.1f'):''","title":"Hᵦ","tickSize":-7,"labelPadding":17,"titlePadding":12,"labelOverlap":false,"labelFlush":false}},
"detail":{"field":"g"},"order":{"field":"o"}}},
{"data":{"name":"solid"},"transform":[{"filter":"datum.g=='m0'"}],"mark":{"type":"line","color":"black","strokeWidth":2,"clip":true},
"encoding":{"x":{"field":"x","type":"quantitative","scale":{"domain":[2.4,3.3],"nice":false,"zero":false},"axis":{"orient":"top","values":[2.4,2.45,2.5,2.55,2.6,2.65,2.7,2.75,2.8,2.85,2.9,2.95,3.0,3.05,3.1,3.15,3.2,3.25,3.3],"labels":false,"title":null,"tickSize":-7,"minExtent":0,"maxExtent":0}},
"y":{"field":"y","type":"quantitative","scale":{"domain":[1.5,2.3],"nice":false,"zero":false},"axis":{"orient":"right","values":[1.5,1.55,1.6,1.65,1.7,1.75,1.8,1.85,1.9,1.95,2.0,2.05,2.1,2.15,2.2,2.25,2.3],"labels":false,"title":null,"tickSize":-7,"minExtent":0,"maxExtent":0}},
"order":{"field":"o"}}},
{"data":{"name":"solid"},"transform":[{"filter":"datum.g=='age'"}],"mark":{"type":"line","color":"black","strokeWidth":3.2,"clip":true},"encoding":{"order":{"field":"o"}}},
{"data":{"name":"arrow"},"mark":{"type":"line","color":"black","strokeWidth":2.5},"encoding":{"order":{"field":"o"}}},
{"data":{"name":"arrow"},"transform":[{"filter":"datum.o==2"}],"mark":{"type":"point","shape":"M-1,1L0,0L1,1","angle":315,"size":289,"filled":false,"stroke":"black","strokeWidth":2.5,"opacity":1}},
{"data":{"name":"pts"},"transform":[{"filter":"datum.p==3"}],"mark":{"type":"line","strokeWidth":1.8},"encoding":{"color":{"field":"c","type":"nominal","scale":{"domain":["k","1L","1S","1S0","2L","2S","2S0","3L","3S"],"range":["#000000","#1a1ae6","#80c8ea","#f88072","#1a7a1a","#3ccc3c","#ff2090","#a0522d","#ffa500"]},"legend":null},"detail":{"field":"k"},"order":{"field":"o"}}},
{"data":{"name":"pts"},"transform":[{"filter":"datum.p==3&&datum.xe>0"}],"mark":{"type":"errorbar","thickness":1.3},"encoding":{"xError":{"field":"xe"},"color":{"field":"c","type":"nominal","legend":null}}},
{"data":{"name":"pts"},"transform":[{"filter":"datum.p==3&&datum.ye>0"}],"mark":{"type":"errorbar","thickness":1.3,"ticks":{"size":7}},"encoding":{"yError":{"field":"ye"},"color":{"field":"c","type":"nominal","legend":null}}},
{"data":{"name":"pts"},"transform":[{"filter":"datum.p==3&&datum.k=='dot'"}],"mark":{"type":"point","shape":"circle","filled":true,"size":45,"opacity":1},"encoding":{"color":{"field":"c","type":"nominal","legend":null}}},
{"data":{"name":"pts"},"transform":[{"filter":"datum.p==3&&datum.k=='ell'"}],"mark":{"type":"point","shape":"M-1,0A1,0.5 0 1 0 1,0A1,0.5 0 1 0 -1,0Z","filled":false,"size":500,"strokeWidth":1.6,"opacity":1},"encoding":{"color":{"field":"c","type":"nominal","legend":null}}},
{"data":{"name":"leg"},"transform":[{"filter":"datum.k=='dot'"}],"mark":{"type":"point","shape":"circle","filled":true,"size":45,"color":"black","opacity":1}},
{"data":{"name":"leg"},"transform":[{"filter":"datum.k=='ell'"}],"mark":{"type":"point","shape":"M-1,0A1,0.5 0 1 0 1,0A1,0.5 0 1 0 -1,0ZM0,-0.9L0,0.9M-1,0L1,0","filled":false,"size":300,"color":"black","strokeWidth":1.3,"opacity":1}},
{"data":{"name":"leg"},"transform":[{"filter":"datum.k=='sr'"}],"mark":{"type":"point","shape":"M-1,0L1,0M0,-1L0,1","filled":false,"size":170,"color":"black","strokeWidth":1.3,"opacity":1}},
{"data":{"name":"leg"},"transform":[{"filter":"datum.k=='imf'"}],"mark":{"type":"line","color":"black","strokeWidth":1.5},"encoding":{"order":{"field":"o"}}},
{"data":{"name":"ctxt"},"transform":[{"filter":"datum.r=='lab'"}],"mark":{"type":"text","align":"left","baseline":"middle","fontSize":14.5,"font":"DejaVu Sans","color":"black"},"encoding":{"text":{"field":"t"}}},
{"data":{"name":"ctxt"},"transform":[{"filter":"datum.r=='mod'"}],"mark":{"type":"text","align":"left","baseline":"middle","fontSize":10.5,"font":"DejaVu Sans","color":"#555555"},"encoding":{"text":{"field":"t"}}},
{"data":{"name":"ctxt"},"transform":[{"filter":"datum.r=='dir'"}],"mark":{"type":"text","align":"left","baseline":"middle","fontSize":17,"font":"Liberation Sans","fontWeight":"bold","color":"black"},"encoding":{"text":{"field":"t"}}},
{"data":{"name":"ptxt"},"transform":[{"filter":"datum.p==3"}],"mark":{"type":"text","align":"left","baseline":"middle","fontSize":14.5,"font":"DejaVu Sans"},"encoding":{"text":{"field":"t"},"color":{"field":"c","type":"nominal","legend":null}}}
]}
]
}
